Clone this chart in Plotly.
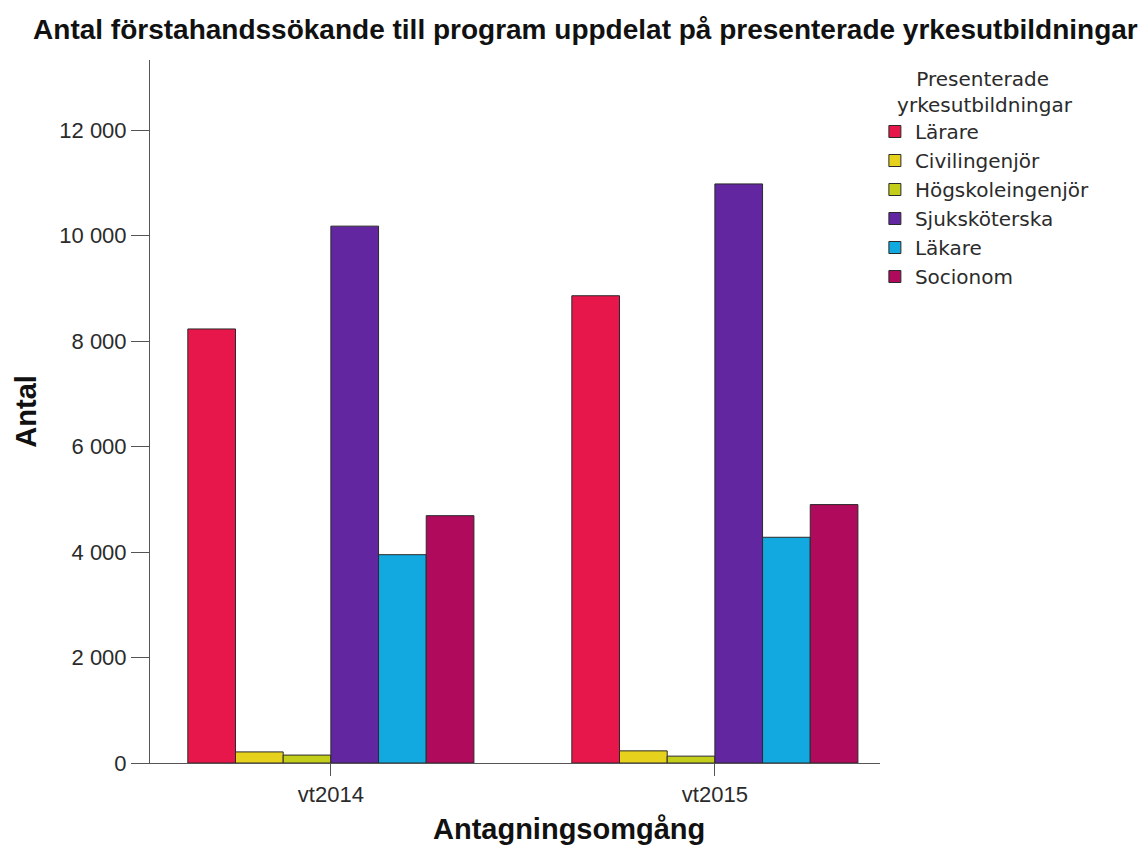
import plotly.graph_objects as go

# Data
omgangar = ['vt2014', 'vt2015']
utbildningar = ['Lärare', 'Civilingenjör', 'Högskoleingenjör', 'Sjuksköterska', 'Läkare', 'Socionom']
lararare = [8230, 8860]
civilingenjor = [210, 230]
hogskoleingenjor = [150, 130]
sjukskoterska = [10180, 10980]
lakare = [3950, 4280]
socionom = [4690, 4900]
y_ticks = [0, 2000, 4000, 6000, 8000, 10000, 12000]

varden = [lararare, civilingenjor, hogskoleingenjor, sjukskoterska, lakare, socionom]
farger = ['#E8174B', '#E6D21C', '#C3CE1B', '#6226A0', '#11A9DF', '#AF0A5B']

fig = go.Figure()
for namn, v, f in zip(utbildningar, varden, farger):
    fig.add_trace(go.Bar(
        x=omgangar, y=v, name=namn,
        marker=dict(color=f, line=dict(color='#2a2a2a', width=1)),
    ))

fig.update_layout(
    width=1148, height=859,
    barmode='group', bargap=0.255, bargroupgap=0,
    plot_bgcolor='white', paper_bgcolor='white',
    separators=', ',
    font=dict(family='Liberation Sans, Arial, sans-serif', color='#2b2b2b', size=20),
    margin=dict(l=142, r=276, t=52, b=104),
    title=dict(
        text='<b>Antal förstahandssökande till program uppdelat på presenterade yrkesutbildningar</b>',
        x=0.503, xanchor='center', y=0.9756, yanchor='middle',
        font=dict(size=28, color='#111111'),
    ),
    legend=dict(
        title=dict(text='&nbsp;&nbsp;&nbsp;Presenterade<br>yrkesutbildningar', side='top center',
                   font=dict(size=20, family='DejaVu Sans')),
        x=0.993, xanchor='left', y=1.0, yanchor='top',
        font=dict(size=20, family='DejaVu Sans'), bgcolor='rgba(0,0,0,0)',
        tracegroupgap=0,
    ),
    showlegend=True,
)

# axis titles as annotations so they sit where the reference has them
fig.add_annotation(text='<b>Antagningsomgång</b>', xref='paper', yref='paper',
                   x=0.574, y=-0.094, xanchor='center', yanchor='middle',
                   showarrow=False, font=dict(size=29, color='#111111'))
fig.add_annotation(text='<b>Antal</b>', xref='paper', yref='paper',
                   x=-0.171, y=0.5, xanchor='center', yanchor='middle', textangle=-90,
                   showarrow=False, font=dict(size=29, color='#111111'))

fig.update_xaxes(
    range=[-0.471, 1.43],
    showline=True, linecolor='#555555', linewidth=1,
    ticks='outside', ticklen=12, tickcolor='#555555',
    showgrid=False,
    tickfont=dict(size=22),
)
fig.update_yaxes(
    range=[0, 13330],
    tickvals=y_ticks,
    tickformat=',d',
    showline=True, linecolor='#555555', linewidth=1,
    ticks='outside', ticklen=18, tickcolor='#555555',
    showgrid=False, zeroline=False,
    tickfont=dict(size=22),
)

fig.write_html("out.html")
